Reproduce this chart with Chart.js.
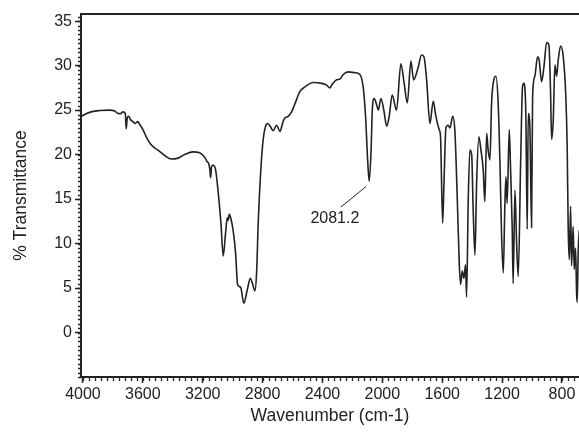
<!DOCTYPE html>
<html>
<head>
<meta charset="utf-8">
<script src="https://cdn.jsdelivr.net/npm/chart.js@4.4.1/dist/chart.umd.min.js"></script>
<style>
  body { margin: 0; background: #fff; }
  #wrap { width: 579px; height: 435px; position: relative; }
</style>
</head>
<body>
<div id="wrap"><canvas id="ir_chart"></canvas></div>
<script>
// wavenumber (cm-1) and % transmittance
var wavenumbers = [4020, 3989, 3945, 3888, 3822, 3788, 3762, 3748, 3733, 3717, 3711, 3704, 3695, 3681, 3666, 3651, 3633, 3621, 3599, 3577,
    3544, 3499, 3454, 3410, 3365, 3321, 3265, 3220, 3187, 3170, 3160, 3152, 3147, 3140, 3130, 3114, 3096, 3078, 3063, 3047,
    3036, 3030, 3023, 3013, 2996, 2980, 2967, 2947, 2925, 2902, 2882, 2869, 2851, 2840, 2829, 2813, 2796, 2780, 2765, 2750,
    2729, 2706, 2684, 2665, 2651, 2629, 2606, 2584, 2550, 2517, 2462, 2405, 2372, 2350, 2335, 2305, 2283, 2261, 2228, 2183,
    2150, 2128, 2112, 2098, 2088, 2075, 2067, 2054, 2038, 2027, 2009, 1989, 1971, 1954, 1934, 1905, 1876, 1854, 1833, 1809,
    1791, 1762, 1738, 1722, 1704, 1682, 1660, 1642, 1620, 1611, 1597, 1588, 1575, 1560, 1548, 1530, 1515, 1500, 1486, 1477,
    1466, 1455, 1444, 1437, 1426, 1415, 1403, 1393, 1381, 1370, 1355, 1341, 1326, 1315, 1303, 1293, 1281, 1270, 1255, 1241,
    1226, 1214, 1203, 1192, 1181, 1174, 1166, 1152, 1143, 1132, 1126, 1114, 1103, 1092, 1076, 1063, 1054, 1041, 1032, 1025,
    1014, 1003, 996, 981, 963, 952, 936, 920, 902, 887, 876, 869, 858, 847, 836, 825, 809, 791, 774, 765,
    758, 751, 742, 736, 725, 718, 709, 702, 698, 691, 684];
var transmittance = [24.2, 24.5, 24.8, 24.95, 25.0, 24.9, 24.6, 24.6, 24.8, 24.6, 22.9, 24.1, 24.3, 23.9, 23.7, 23.5, 23.7, 23.4, 22.8, 22.0,
    21.1, 20.5, 19.9, 19.5, 19.6, 20.0, 20.3, 20.2, 19.7, 19.2, 19.0, 18.3, 17.4, 18.7, 18.8, 18.3, 15.7, 12.3, 8.6, 11.2,
    12.9, 12.6, 13.3, 12.9, 11.4, 8.9, 5.4, 5.1, 3.3, 4.8, 6.1, 5.6, 4.7, 6.7, 12.3, 17.9, 21.7, 23.2, 23.5, 23.2,
    22.7, 23.3, 22.6, 23.6, 24.1, 24.3, 24.8, 25.7, 27.1, 27.6, 28.1, 28.0, 27.8, 27.5, 27.9, 28.4, 28.5, 29.0, 29.3, 29.2,
    29.0, 27.6, 24.3, 19.4, 17.0, 20.5, 25.0, 26.3, 25.6, 25.0, 26.3, 24.9, 23.2, 24.3, 26.7, 25.0, 30.2, 28.0, 25.8, 30.5,
    28.4, 29.7, 31.2, 31.0, 28.4, 23.5, 26.0, 24.3, 22.8, 22.0, 12.3, 16.8, 23.0, 23.3, 23.0, 24.3, 22.6, 15.5, 7.8, 5.4,
    6.9, 6.1, 7.6, 4.0, 14.9, 20.5, 20.0, 13.8, 8.7, 16.8, 22.0, 20.5, 18.3, 14.7, 22.4, 20.5, 19.4, 25.8, 28.4, 28.8,
    25.8, 19.0, 10.8, 6.7, 14.5, 17.5, 14.5, 22.8, 18.3, 11.6, 5.5, 16.0, 10.1, 6.3, 19.0, 27.7, 28.0, 24.3, 11.6, 24.6,
    23.0, 11.8, 26.5, 28.8, 31.0, 30.6, 28.2, 29.9, 32.6, 32.3, 27.0, 21.7, 23.9, 30.1, 28.8, 30.6, 32.2, 31.0, 26.5, 20.9,
    11.6, 8.2, 14.2, 7.5, 11.9, 7.1, 9.5, 4.4, 3.4, 9.3, 11.5];

var xTicks = [4000, 3600, 3200, 2800, 2400, 2000, 1600, 1200, 800];
var yTicks = [35, 30, 25, 20, 15, 10, 5, 0];

var peakLabel = '2081.2';

var INK = '#222';
var tickFont = { family: "'Liberation Sans Narrow', 'Arial Narrow', 'Liberation Sans', Arial", size: 16 };
var titleFont = { family: "'Liberation Sans', Arial", size: 17.5 };

// top frame line, minor ticks and the peak callout
var extras = {
    id: 'extras',
    afterDraw: function (chart) {
        var ctx = chart.ctx, a = chart.chartArea, x = chart.scales.x, y = chart.scales.y;
        ctx.save();
        ctx.strokeStyle = INK;
        ctx.lineWidth = 2;
        ctx.beginPath();
        ctx.moveTo(a.left - 1, a.top);
        ctx.lineTo(a.right, a.top);
        ctx.stroke();

        ctx.lineWidth = 1.3;
        ctx.beginPath();
        for (var v = 4000; v >= x.min; v -= 40) {
            var px = Math.round(x.getPixelForValue(v)) + 0.5;
            ctx.moveTo(px, a.bottom);
            ctx.lineTo(px, a.bottom + 4);
        }
        for (var t = -5; t <= y.max; t += 0.5) {
            var py = Math.round(y.getPixelForValue(t)) + 0.5;
            ctx.moveTo(a.left, py);
            ctx.lineTo(a.left - 3, py);
        }
        ctx.stroke();

        // callout line for the 2081.2 band
        ctx.lineWidth = 1;
        ctx.beginPath();
        ctx.moveTo(x.getPixelForValue(2109), y.getPixelForValue(16.4));
        ctx.lineTo(x.getPixelForValue(2277), y.getPixelForValue(14.1));
        ctx.stroke();
        ctx.fillStyle = INK;
        ctx.font = tickFont.size + 'px ' + tickFont.family;
        ctx.textAlign = 'center';
        ctx.textBaseline = 'middle';
        ctx.fillText(peakLabel, x.getPixelForValue(2317), y.getPixelForValue(12.8));
        ctx.restore();
    }
};

var points = wavenumbers.map(function (w, i) { return { x: w, y: transmittance[i] }; });

new Chart(document.getElementById('ir_chart').getContext('2d'), {
    type: 'line',
    data: {
        datasets: [{
            data: points,
            borderColor: INK,
            borderWidth: 1.6,
            pointRadius: 0,
            cubicInterpolationMode: 'monotone',
            fill: false
        }]
    },
    options: {
        responsive: true,
        maintainAspectRatio: false,
        animation: false,
        layout: { padding: { top: 14, right: 0, left: 0, bottom: 0 } },
        plugins: { legend: { display: false }, tooltip: { enabled: false } },
        scales: {
            x: {
                type: 'linear',
                reverse: true,
                min: 686,
                max: 4013,
                afterBuildTicks: function (s) { s.ticks = xTicks.map(function (v) { return { value: v }; }); },
                afterFit: function (s) { s.height = 58; },
                grid: { drawOnChartArea: false, drawTicks: true, tickLength: 6, tickWidth: 1.5, tickColor: INK },
                border: { display: true, width: 2, color: INK },
                ticks: {
                    color: INK, font: tickFont, padding: 2, maxRotation: 0, autoSkip: false,
                    callback: function (v) { return String(v); }
                },
                title: { display: true, text: 'Wavenumber (cm-1)', color: INK, font: titleFont, padding: { top: 0, bottom: 8 } }
            },
            y: {
                type: 'linear',
                min: -5,
                max: 35.8,
                afterBuildTicks: function (s) { s.ticks = yTicks.map(function (v) { return { value: v }; }); },
                afterFit: function (s) { s.width = 81; },
                grid: { drawOnChartArea: false, drawTicks: true, tickLength: 6, tickWidth: 1.5, tickColor: INK },
                border: { display: true, width: 2, color: INK },
                ticks: { color: INK, font: tickFont, padding: 3, autoSkip: false },
                title: { display: true, text: '% Transmittance', color: INK, font: titleFont, padding: { top: 11, bottom: 0 } }
            }
        }
    },
    plugins: [extras]
});
</script>
</body>
</html>
